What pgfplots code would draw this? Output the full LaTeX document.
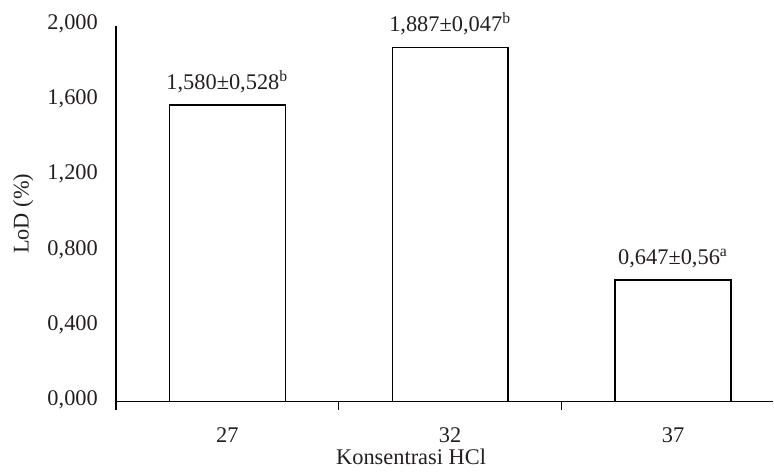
\documentclass[border=0pt]{standalone}
\usepackage{pgfplots}
\pgfplotsset{compat=1.18}
\usepackage{fontspec}
\setmainfont{Liberation Serif}
\definecolor{txt}{HTML}{231F20}
\begin{document}
\begin{tikzpicture}[font=\fontsize{11.2}{13.4}\selectfont, text=txt]
\begin{axis}[
  scale only axis,
  width=329pt, height=188pt,
  xmin=-0.5, xmax=2.45,
  ymin=0, ymax=2,
  axis x line=bottom, axis y line=left,
  axis line style={-, line width=0.7pt, black},
  xtick={0,1,2}, xticklabels={27,32,37},
  minor xtick={-0.5,0.5,1.5},
  ytick={0,0.4,0.8,1.2,1.6,2},
  major tick length=0pt,
  minor tick length=4pt,
  tick align=outside,
  minor tick style={line width=0.7pt, black},
  /pgf/number format/assume math mode=true,
  yticklabel style={/pgf/number format/fixed, /pgf/number format/fixed zerofill, /pgf/number format/precision=3, /pgf/number format/use comma, xshift=-5.5pt, yshift=1pt},
  xticklabel style={yshift=-9.5pt},
  xlabel={Konsentrasi HCl},
  xlabel style={at={(axis description cs:0.449,0)}, anchor=north, yshift=-20pt},
  ylabel={LoD (\%)},
  ylabel style={at={(axis description cs:-0.141,0.5)}, anchor=center},
  ybar, bar width=0.52,
  nodes near coords,
  point meta=explicit symbolic,
  every node near coord/.append style={yshift=2.5pt, text=txt},
  clip=false,
]
\addplot[draw=black, fill=white, line width=0.7pt] table[meta=label] {
x y label
0 1.580 1,580±0,528\textsuperscript{b}
1 1.887 1,887±0,047\textsuperscript{b}
2 0.647 0,647±0,56\textsuperscript{a}
};
\end{axis}
\path[use as bounding box] (current axis.south west) ++(-58pt,-33pt) rectangle ++(387pt,234pt);
\end{tikzpicture}
\end{document}
